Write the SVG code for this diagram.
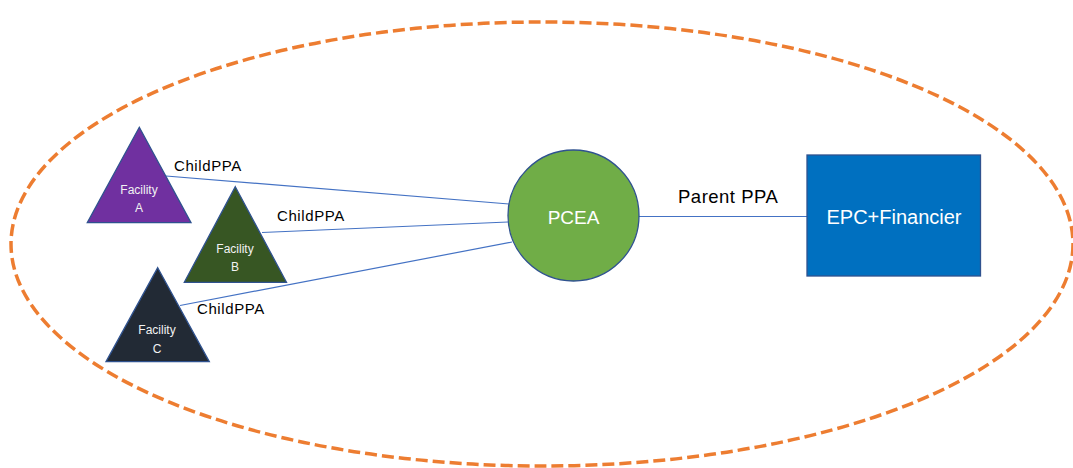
<svg xmlns="http://www.w3.org/2000/svg" width="1073" height="468" viewBox="0 0 1073 468">
<style>
.lbl{font-family:"Liberation Sans",Arial,sans-serif;fill:#000;}
.wt{font-family:"Liberation Sans",Arial,sans-serif;fill:#fff;text-anchor:middle;}
.fac{font-family:"Liberation Sans",Arial,sans-serif;fill:#f2f2f2;text-anchor:middle;font-size:12px;}
.conn{stroke:#4472C4;stroke-width:1.2;fill:none;}
.tri{stroke:#2F528F;stroke-width:1.3;}
</style>
<rect width="1073" height="468" fill="#fff"/>
<g id="boundary">
<ellipse cx="542" cy="244" rx="531" ry="222" fill="none" stroke="#ED7D31" stroke-width="3.5" stroke-dasharray="12 5"/>
</g>
<g id="connectors">
<line class="conn" x1="166" y1="176" x2="509" y2="204"/>
<line class="conn" x1="262" y1="232.5" x2="508" y2="222"/>
<line class="conn" x1="180" y1="305.5" x2="512" y2="242"/>
<line class="conn" x1="639" y1="216.5" x2="807" y2="216.5"/>
<text class="lbl" x="174" y="171" font-size="15" letter-spacing="0.6">ChildPPA</text>
<text class="lbl" x="277" y="221" font-size="15" letter-spacing="0.6">ChildPPA</text>
<text class="lbl" x="197" y="314" font-size="15" letter-spacing="0.6">ChildPPA</text>
<text class="lbl" x="678" y="203" font-size="18.5" letter-spacing="0.5">Parent PPA</text>
</g>
<g id="facilityA">
<polygon class="tri" points="139.3,127.3 191,222.7 87.3,222.7" fill="#7030A0"/>
<text class="fac" x="139" y="194">Facility</text>
<text class="fac" x="139" y="212">A</text>
</g>
<g id="facilityB">
<polygon class="tri" points="235.3,186.7 286.5,282.3 184.3,282.3" fill="#375623"/>
<text class="fac" x="235" y="253">Facility</text>
<text class="fac" x="235" y="271">B</text>
</g>
<g id="facilityC">
<polygon class="tri" points="157.7,267.7 209.3,361.7 106,361.7" fill="#222A35"/>
<text class="fac" x="157" y="334">Facility</text>
<text class="fac" x="157" y="353">C</text>
</g>
<g id="pcea">
<circle cx="573.5" cy="215.5" r="65.5" fill="#70AD47" stroke="#2F528F" stroke-width="1.3"/>
<text class="wt" x="573.5" y="224" font-size="19">PCEA</text>
</g>
<g id="epc">
<rect x="807" y="155" width="173.5" height="121" fill="#0070C0" stroke="#2F528F" stroke-width="1.3"/>
<text class="wt" x="894" y="224" font-size="20">EPC+Financier</text>
</g>
</svg>
